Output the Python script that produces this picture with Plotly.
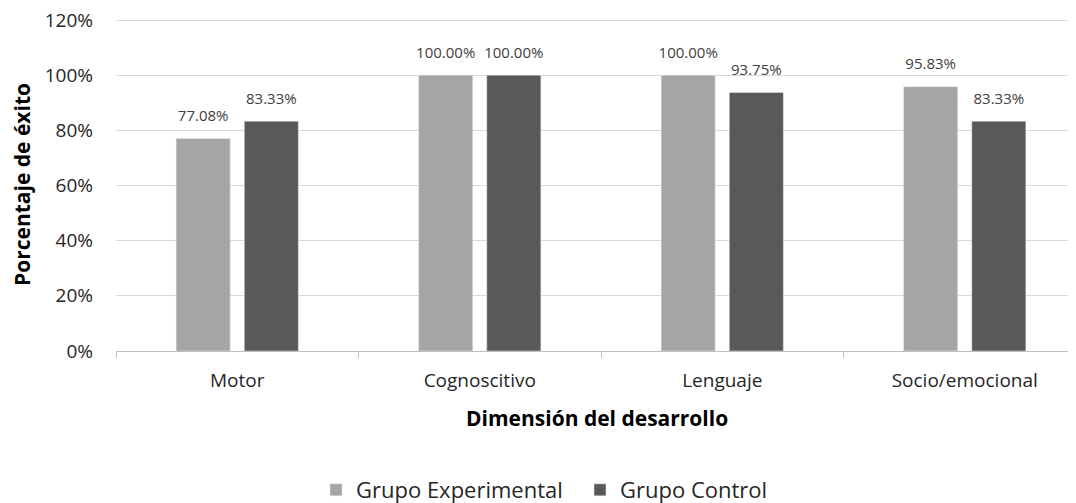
import plotly.graph_objects as go

categories = ["Motor", "Cognoscitivo", "Lenguaje", "Socio/emocional"]
experimental = [77.08, 100.00, 100.00, 95.83]
control = [83.33, 100.00, 93.75, 83.33]
series_names = ["Grupo Experimental", "Grupo Control"]
y_ticks = [0, 20, 40, 60, 80, 100, 120]
y_tick_labels = ["0%", "20%", "40%", "60%", "80%", "100%", "120%"]

FONT = "Open Sans"
# page has an 8px body margin, so the figure is offset by 8px
W, H = 1068, 495
L, R, T, B = 108, 0, 9, 152
ph = H - T - B
pw = W - L - R
cat_w = 242.5
px_per_unit = 331 / 120
y_top = 120 + 3 / px_per_unit  # small headroom so the 120% gridline is drawn

series = [(series_names[0], experimental, "#a5a5a5"), (series_names[1], control, "#595959")]

fig = go.Figure()
for i, (name, vals, col) in enumerate(series):
    fig.add_trace(go.Bar(
        x=categories, y=vals, name=name, marker_color=col,
        offsetgroup=str(i), alignmentgroup="a",
    ))
for i, (name, vals, col) in enumerate(series):
    fig.add_trace(go.Scatter(
        x=categories, y=vals, mode="markers+text", showlegend=False,
        offsetgroup=str(i), alignmentgroup="a",
        marker=dict(size=20, color="rgba(0,0,0,0)"),
        text=[f"{v:.2f}%" for v in vals], textposition="top center",
        textfont=dict(family=FONT, size=15, color="#404040"),
        cliponaxis=False, hoverinfo="skip",
    ))

x_max = -0.5 + pw / cat_w

fig.update_layout(
    width=W, height=H,
    margin=dict(l=L, r=R, t=T, b=B, autoexpand=False),
    paper_bgcolor="white", plot_bgcolor="white",
    barmode="group", bargap=0.438, bargroupgap=0.206,
    scattermode="group", scattergap=0.438,
    font=dict(family=FONT, color="#262626"),
    showlegend=True,
    legend=dict(orientation="h", x=572 / W, xanchor="center", xref="container",
                y=(H - 482) / H, yref="container", yanchor="middle",
                font=dict(family=FONT, size=22, color="#262626"),
                entrywidth=219, entrywidthmode="pixels", traceorder="normal"),
    xaxis=dict(
        range=[-0.5, x_max], showgrid=False,
        showline=True, linecolor="#bfbfbf", linewidth=1,
        ticks="outside", tickson="boundaries", ticklen=6, tickcolor="#bfbfbf",
        tickfont=dict(family=FONT, size=19, color="#262626"),
        ticklabelstandoff=12,
    ),
    yaxis=dict(
        range=[0, y_top], tickvals=y_ticks, ticktext=y_tick_labels,
        showgrid=True, gridcolor="#d9d9d9", gridwidth=1,
        zeroline=False, showline=False, ticks="",
        tickfont=dict(family=FONT, size=19, color="#262626"),
        ticklabelstandoff=22, ticklabeloverflow="allow",
    ),
    annotations=[
        dict(text="<b>Dimensión del desarrollo</b>", xref="paper", yref="paper",
             x=(589 - L) / pw, y=(343 - 410) / ph, xanchor="center", yanchor="middle",
             showarrow=False, font=dict(family=FONT, size=21, color="#000000")),
        dict(text="<b>Porcentaje de éxito</b>", xref="paper", yref="paper",
             x=(14 - L) / pw, y=(343 - 177) / ph, xanchor="center", yanchor="middle",
             textangle=-90, showarrow=False,
             font=dict(family=FONT, size=21, color="#000000")),
    ],
)

fig.write_html("out.html")
